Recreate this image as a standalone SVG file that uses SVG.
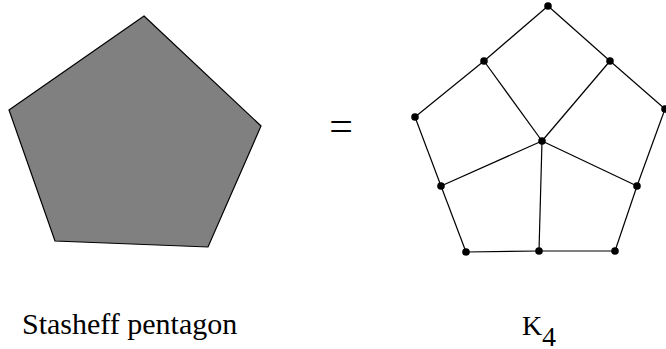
<svg xmlns="http://www.w3.org/2000/svg" width="666" height="349" viewBox="0 0 666 349">
<style>
.edge{stroke:#000;stroke-width:1.2;fill:none}
.dot{fill:#000}
.lbl{font-family:"Liberation Serif","Times New Roman",serif;fill:#000}
</style>
<rect width="666" height="349" fill="#fff"/>
<g id="pentagon">
<polygon points="144,16 261,126 208,247 55,241 9,110" fill="#808080" stroke="#000" stroke-width="1.2"/>
</g>
<g id="equals">
<text class="lbl" x="341" y="140" font-size="42" text-anchor="middle">=</text>
</g>
<g id="connectors">
<line class="edge" x1="548" y1="6" x2="484" y2="61"/>
<line class="edge" x1="548" y1="6" x2="610" y2="61"/>
<line class="edge" x1="484" y1="61" x2="415" y2="117"/>
<line class="edge" x1="484" y1="61" x2="542" y2="141"/>
<line class="edge" x1="610" y1="61" x2="542" y2="141"/>
<line class="edge" x1="610" y1="61" x2="665" y2="109"/>
<line class="edge" x1="415" y1="117" x2="441" y2="186"/>
<line class="edge" x1="441" y1="186" x2="542" y2="141"/>
<line class="edge" x1="542" y1="141" x2="637" y2="186"/>
<line class="edge" x1="665" y1="109" x2="637" y2="186"/>
<line class="edge" x1="441" y1="186" x2="466" y2="252"/>
<line class="edge" x1="466" y1="252" x2="539" y2="251"/>
<line class="edge" x1="539" y1="251" x2="615" y2="251"/>
<line class="edge" x1="615" y1="251" x2="637" y2="186"/>
<line class="edge" x1="542" y1="141" x2="539" y2="251"/>
</g>
<g id="n-top"><circle class="dot" cx="548" cy="6" r="3.8"/></g>
<g id="n-ul"><circle class="dot" cx="484" cy="61" r="3.8"/></g>
<g id="n-ur"><circle class="dot" cx="610" cy="61" r="3.8"/></g>
<g id="n-l"><circle class="dot" cx="415" cy="117" r="3.8"/></g>
<g id="n-r"><circle class="dot" cx="665" cy="109" r="3.8"/></g>
<g id="n-c"><circle class="dot" cx="542" cy="141" r="3.8"/></g>
<g id="n-ml"><circle class="dot" cx="441" cy="186" r="3.8"/></g>
<g id="n-mr"><circle class="dot" cx="637" cy="186" r="3.8"/></g>
<g id="n-bl"><circle class="dot" cx="466" cy="252" r="3.8"/></g>
<g id="n-bm"><circle class="dot" cx="539" cy="251" r="3.8"/></g>
<g id="n-br"><circle class="dot" cx="615" cy="251" r="3.8"/></g>
<g id="label-stasheff">
<text class="lbl" x="22" y="334" font-size="30">Stasheff pentagon</text>
</g>
<g id="label-k4">
<text class="lbl" x="522" y="335" font-size="28">K<tspan x="542" y="346">4</tspan></text>
</g>
</svg>
